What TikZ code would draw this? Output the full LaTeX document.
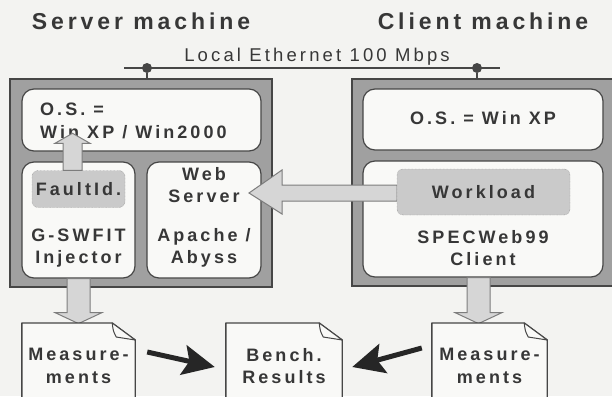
\documentclass[tikz,border=0pt]{standalone}
\usepackage{fontspec}
\setmainfont{Liberation Sans}[LetterSpace=17]
\usepackage{xcolor}
\usetikzlibrary{arrows.meta,calc}

\definecolor{bggray}{RGB}{243,243,241}
\definecolor{framegray}{RGB}{160,160,160}
\definecolor{linegray}{RGB}{70,70,70}
\definecolor{boxfill}{RGB}{249,249,247}
\definecolor{modfill}{RGB}{202,202,202}
\definecolor{arrfill}{RGB}{214,214,214}
\definecolor{arrline}{RGB}{125,125,125}
\definecolor{txtgray}{RGB}{55,55,55}

\tikzset{
  machine/.style={draw=linegray, line width=1.2pt, fill=framegray, inner sep=0pt},
  layer/.style={draw=linegray, line width=1.2pt, fill=boxfill, rounded corners=12pt, inner sep=0pt},
  module/.style={draw=gray, densely dotted, fill=modfill, rounded corners=6pt, inner sep=0pt},
  doc/.style={inner sep=0pt},
  docline/.style={draw=linegray, line width=1.4pt, fill=boxfill, line join=round},
  lbl/.style={text=txtgray, font=\fontsize{18}{22.5}\selectfont\bfseries, align=center, inner sep=0pt},
  title/.style={text=txtgray, font=\fontsize{23}{26}\selectfont\bfseries, inner sep=0pt},
  blockarr/.style={draw=arrline, line width=1pt, fill=arrfill, line join=miter},
  resarr/.style={draw=black!85, line width=5pt, -{Stealth[length=32pt,width=30pt,inset=6pt]}},
  tap/.style={circle, fill=linegray, inner sep=0pt, minimum size=10pt},
}

\begin{document}
\begin{tikzpicture}[x=1pt,y=-1pt]
  \clip (0,0) rectangle (612,396);
  \fill[bggray] (0,0) rectangle (612,396);

  % the two machines
  \node[title, anchor=base] (srvtitle) at (141,30) {Server machine};
  \node[title, anchor=base] (clititle) at (483,30) {Client machine};
  \node[machine, minimum width=262pt, minimum height=208pt] (srv) at (141,183) {};
  \node[machine, minimum width=264pt, minimum height=207pt] (cli) at (484,182.5) {};

  % network
  \node[text=txtgray, font=\fontsize{18.5}{20}\selectfont, anchor=base, inner sep=0pt] (ethlbl) at (317,62) {Local Ethernet 100 Mbps};
  \coordinate (ethL) at (124,68);
  \coordinate (ethR) at (500,68);
  \draw[linegray, line width=2.2pt] (ethL) -- (ethR);
  \node[tap] (tap1) at (147,68) {};
  \node[tap] (tap2) at (477,68) {};
  \draw[linegray, line width=1.5pt] (tap1) -- (tap1 |- srv.north);
  \draw[linegray, line width=1.5pt] (tap2) -- (tap2 |- cli.north);

  % server side
  \node[layer, minimum width=239pt, minimum height=62pt] (srvos) at (141.5,120) {};
  \node[lbl, align=left, anchor=west] (srvoslbl) at (40,121) {O.S. =\\Win XP / Win2000};
  \node[layer, minimum width=113pt, minimum height=116pt] (inj) at (78.5,220) {};
  \node[layer, minimum width=114pt, minimum height=116pt] (web) at (204,220) {};
  \node[module, lbl, minimum width=93pt, minimum height=37pt] (fault) at (78.5,189) {FaultId.};
  \node[lbl] (injlbl) at (78.5,248) {G-SWFIT\\Injector};
  \node[lbl] (weblbl) at (204,185) {Web\\Server};
  \node[lbl] (apachelbl) at (204,248) {Apache /\\Abyss};

  % client side
  \node[layer, minimum width=240pt, minimum height=61pt] (clios) at (483,119.5) {};
  \node[lbl] (cliosl) at (483,118) {O.S. = Win XP};
  \node[layer, minimum width=240pt, minimum height=116pt] (spec) at (483,219) {};
  \node[lbl] (speclbl) at (483,248) {SPECWeb99\\Client};

  % block arrows
  \draw[blockarr] ($(fault.north)+(-15.5,0)$) -- ++(0,-27) -- ++(-8,0) -- ++(17.5,-10)
    -- ++(17.5,10) -- ++(-8,0) -- ++(0,27) -- cycle;
  \draw[blockarr] (397,185) -- ++(-115,0) -- ++(0,-15) -- ++(-33,23) -- ++(33,21)
    -- ++(0,-13) -- ++(115,0) -- cycle;
  \node[module, lbl, minimum width=173pt, minimum height=46pt] (work) at (483.5,192) {Workload};
  \draw[blockarr] ($(inj.south)+(-11.5,0)$) -- ++(0,34) -- ++(-12,0) -- ++(23.5,11)
    -- ++(23.5,-11) -- ++(-12,0) -- ++(0,-34) -- cycle;
  \draw[blockarr] ($(spec.south)+(-16,0)$) -- ++(0,35) -- ++(-12,0) -- ++(23.5,11)
    -- ++(23.5,-11) -- ++(-12,0) -- ++(0,-35) -- cycle;

  % result documents
  \node[doc, minimum width=113pt, minimum height=80pt, anchor=north] (meas1) at (78.5,323) {};
  \node[doc, minimum width=116pt, minimum height=80pt, anchor=north] (bench) at (284,323) {};
  \node[doc, minimum width=115pt, minimum height=80pt, anchor=north] (meas2) at (489.5,323) {};
  \foreach \d in {meas1,bench,meas2} {
    \draw[docline] (\d.north west) -- ([xshift=-23pt]\d.north east)
      -- ([yshift=-17pt]\d.north east) -- (\d.south east) -- (\d.south west) -- cycle;
    \draw[docline, line width=1pt] ([xshift=-23pt]\d.north east) .. controls +(1,8) .. ([xshift=-19pt,yshift=-14pt]\d.north east)
      -- ([yshift=-17pt]\d.north east) -- cycle;
  }
  \node[lbl] (meas1lbl) at ($(meas1.north)+(0,43)$) {Measure-\\ments};
  \node[lbl] (benchlbl) at ($(bench.north)+(0,43)$) {Bench.\\Results};
  \node[lbl] (meas2lbl) at ($(meas2.north)+(0,43)$) {Measure-\\ments};

  \draw[resarr] ($(meas1.north east)+(12,29)$) -- ($(bench.north west)+(-11,44)$);
  \draw[resarr] ($(meas2.north west)+(-10,25)$) -- ($(bench.north east)+(10,44)$);
\end{tikzpicture}
\end{document}
